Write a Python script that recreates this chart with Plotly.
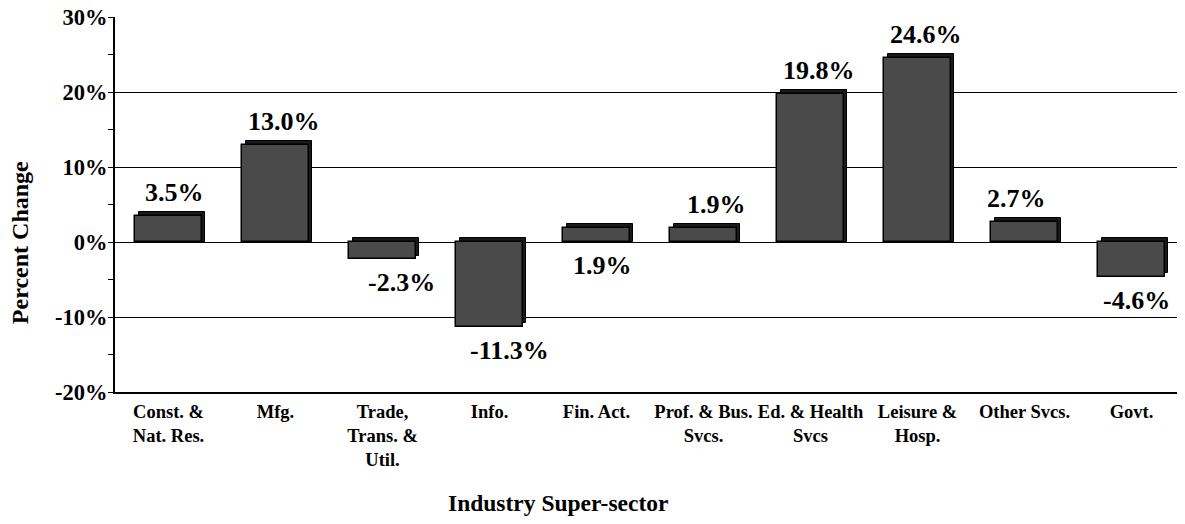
import plotly.graph_objects as go

categories = ["Const. &<br>Nat. Res.", "Mfg.", "Trade,<br>Trans. &<br>Util.", "Info.", "Fin. Act.",
              "Prof. & Bus.<br>Svcs.", "Ed. & Health<br>Svcs", "Leisure &<br>Hosp.", "Other Svcs.", "Govt."]
values = [3.5, 13.0, -2.3, -11.3, 1.9, 1.9, 19.8, 24.6, 2.7, -4.6]
label_below = [False, False, True, True, True, False, False, False, False, True]
y_ticks = [-20, -10, 0, 10, 20, 30]

# style: horizontal nudges of the value labels (px)
label_nudge = [6, 8, 19, 20, 6, 13, 8, 8, -8, 5]

FONT = "Liberation Serif"
depth = 0.5   # 3D depth in % units (vertical)
width = 0.62

x_idx = list(range(len(categories)))

shadow_base = [0 if v >= 0 else depth for v in values]
shadow_y = [v + depth if v >= 0 else v for v in values]

fig = go.Figure()
fig.add_trace(go.Bar(x=x_idx, y=shadow_y, base=shadow_base, width=width, offset=-width / 2 + 0.035,
                     marker=dict(color="#1a1a1a", line=dict(color="black", width=1)),
                     hoverinfo="skip", showlegend=False))
fig.add_trace(go.Bar(x=x_idx, y=values, width=width, offset=-width / 2,
                     marker=dict(color="#4a4a4a", line=dict(color="black", width=1.5)),
                     showlegend=False))

for i, (v, below, dx) in enumerate(zip(values, label_below, label_nudge)):
    if below:
        fig.add_annotation(x=i, y=min(v, 0), text=f"{v:.1f}%", showarrow=False, yanchor="top",
                           yshift=-7, xshift=dx,
                           font=dict(family=FONT, size=26, color="black", weight="bold"))
    else:
        fig.add_annotation(x=i, y=v, text=f"{v:.1f}%", showarrow=False, yanchor="bottom",
                           yshift=7, xshift=dx,
                           font=dict(family=FONT, size=26, color="black", weight="bold"))

fig.add_annotation(xref="paper", yref="paper", x=0.414, y=-0.296, text="Industry Super-sector",
                   showarrow=False, yanchor="middle",
                   font=dict(family=FONT, size=23.5, color="black", weight="bold"))
fig.add_annotation(xref="paper", yref="paper", x=0, xshift=-95, y=0.397, text="Percent Change",
                   showarrow=False, textangle=-90, xanchor="center", yanchor="middle",
                   font=dict(family=FONT, size=24, color="black", weight="bold"))

fig.update_layout(
    width=1177, height=516,
    margin=dict(l=107, r=0, t=9, b=132, autoexpand=False),
    paper_bgcolor="white", plot_bgcolor="white",
    barmode="overlay",
    bargap=0,
)
fig.update_xaxes(
    tickvals=x_idx, ticktext=categories, range=[-0.5, len(categories) - 0.5],
    showgrid=False, showline=True, linecolor="black", linewidth=2, ticks="",
    tickfont=dict(family=FONT, size=18.5, color="black", weight="bold"),
    ticklabelstandoff=2, automargin=False,
)
fig.update_yaxes(
    range=[-20, 30], tickvals=y_ticks, ticktext=[f"{t}%" for t in y_ticks],
    showgrid=True, gridcolor="black", gridwidth=1,
    showline=True, linecolor="black", linewidth=2,
    ticks="outside", ticklen=5, tickcolor="black",
    minor=dict(dtick=5, ticks="outside", ticklen=5, tickcolor="black", showgrid=False),
    zeroline=True, zerolinecolor="black", zerolinewidth=1,
    ticklabeloverflow="allow", automargin=False, ticklabelstandoff=-4,
    tickfont=dict(family=FONT, size=22.5, color="black", weight="bold"),
)

fig.write_html("out.html")
